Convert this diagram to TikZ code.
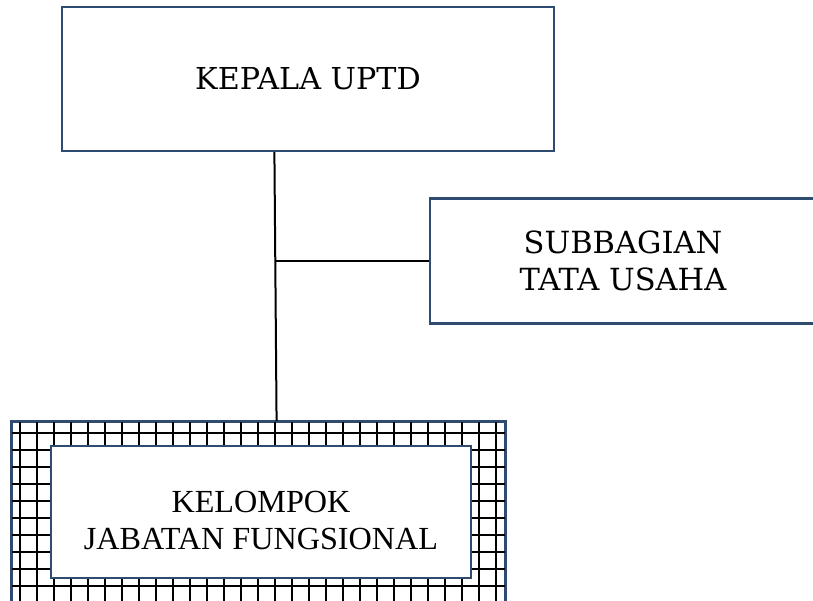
\documentclass[tikz,border=0pt]{standalone}
\usepackage{fontspec}
\setmainfont{Liberation Serif}
\newfontfamily\bookfont{DejaVu Serif}
\usetikzlibrary{calc}
\definecolor{frameblue}{HTML}{2F4B70}
\begin{document}
\begin{tikzpicture}[x=1pt,y=-1pt,
  unitbox/.style={draw=frameblue,line width=2.2pt,fill=white,inner sep=0pt,align=center},
  link/.style={draw=black,line width=2pt},
  gridline/.style={draw=black,line width=2.2pt}]
\useasboundingbox (0,0) rectangle (813,600);
\clip (0,0) rectangle (813,600);
% Kepala
\node[unitbox,minimum width=492pt,minimum height=144pt,
  font=\bookfont\fontsize{30.2}{36}\selectfont] (kepala) at (308,79) {KEPALA UPTD};
% Subbagian
\node[unitbox,minimum width=386pt,minimum height=125pt,
  font=\bookfont\fontsize{30.5}{37}\selectfont] (subbag) at (623,261) {SUBBAGIAN\\TATA USAHA};
% Kelompok outer grid frame
\node[draw=frameblue,line width=2.2pt,fill=white,inner sep=0pt,
  minimum width=493pt,minimum height=200pt] (outer) at (258.5,522) {};
\begin{scope}
  \clip (outer.north west) rectangle (outer.south east);
  \foreach \k in {0,...,28} {\draw[gridline] (20+17*\k,400) -- (20+17*\k,640);}
  \foreach \k in {0,...,12} {\draw[gridline] (0,433.3+17*\k) -- (520,433.3+17*\k);}
\end{scope}
\draw[draw=frameblue,line width=2.2pt] (outer.north west) rectangle (outer.south east);
\node[unitbox,minimum width=420pt,minimum height=132pt,
  font=\fontsize{32.2}{36.7}\selectfont] (kelompok) at (261,512)
  {\begin{tabular}{@{}c@{}}\rule{0pt}{49pt}KELOMPOK\\JABATAN FUNGSIONAL\end{tabular}};
% connectors
\coordinate (top) at ($(kepala.south west)!0.432!(kepala.south east)$);
\coordinate (bot) at ($(outer.north west)!0.5365!(outer.north east)$);
\coordinate (joint) at ($(top)!0.4!(bot)$);
\draw[link] (top) -- (bot);
\draw[link] (joint |- subbag.west) -- (subbag.west);
\end{tikzpicture}
\end{document}
